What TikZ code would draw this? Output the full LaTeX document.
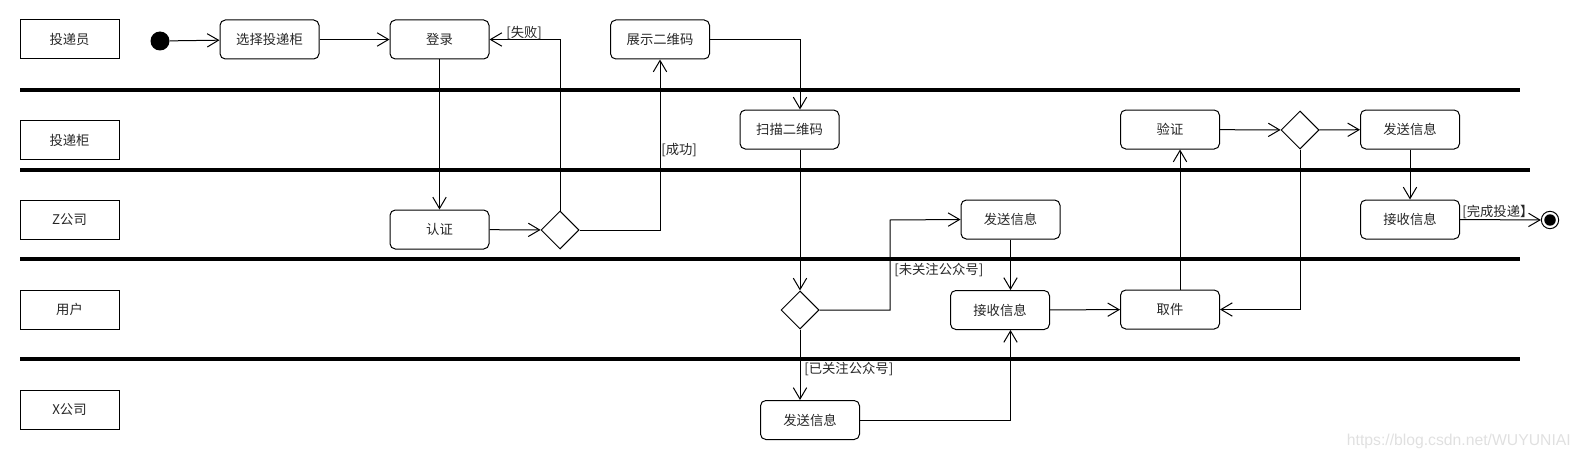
\documentclass[tikz,border=0pt]{standalone}
\usepackage{fontspec}
\newfontfamily\cjk{Noto Sans CJK SC}
\setsansfont{Liberation Sans}
\usetikzlibrary{shapes.geometric,arrows.meta,calc}
\begin{document}
\begin{tikzpicture}[x=0.75pt,y=-0.75pt,
  every node/.style={font=\cjk\fontsize{10}{12}\selectfont, text=black!85},
  lane/.style={draw, line width=0.75pt, minimum width=74.25pt, minimum height=29.25pt, inner sep=0pt},
  act/.style={draw, rounded corners=4pt, line width=0.75pt, minimum width=74.25pt, minimum height=29.25pt, inner sep=0pt},
  dec/.style={diamond, draw, line width=0.75pt, minimum width=28.5pt, minimum height=28.5pt, inner sep=0pt, aspect=1},
  sep/.style={line width=3pt},
  flow/.style={line width=0.75pt, -{Straight Barb[length=8.5pt,width=10pt,line width=0.75pt]}},
  guard/.style={inner sep=0pt}
]
\useasboundingbox (0,0) rectangle (1580,460);

% swimlane separators
\coordinate (s1a) at (20,90);  \coordinate (s1b) at (1520,90);
\coordinate (s2a) at (20,170); \coordinate (s2b) at (1530,170);
\coordinate (s3a) at (20,259); \coordinate (s3b) at (1520,259);
\coordinate (s4a) at (20,359); \coordinate (s4b) at (1520,359);
\draw[sep] (s1a) -- (s1b);
\draw[sep] (s2a) -- (s2b);
\draw[sep] (s3a) -- (s3b);
\draw[sep] (s4a) -- (s4b);

% lane labels
\node[lane] (l1) at (69.5,39.5) {投递员};
\node[lane] (l2) at (69.5,140) {投递柜};
\node[lane] (l3) at (69.5,219.5) {Z公司};
\node[lane] (l4) at (69.5,309.5) {用户};
\node[lane] (l5) at (69.5,409.5) {X公司};

% activities
\node[circle, fill=black, minimum size=14.25pt, inner sep=0pt] (start) at (160,41) {};
\node[act] (sel) at (269.5,39.5) {选择投递柜};
\node[act] (login) at (439.5,39.5) {登录};
\node[act] (auth) at (439.5,229.5) {认证};
\node[dec] (d1) at (560,230) {};
\node[act] (show) at (660,39.5) {展示二维码};
\node[act] (scan) at (789.5,129.5) {扫描二维码};
\node[dec] (d3) at (800,310) {};
\node[act] (sendZ) at (1010.5,219.5) {发送信息};
\node[act] (recvU) at (1000,310) {接收信息};
\node[act] (sendX) at (810,420) {发送信息};
\node[act] (pick) at (1170,309.5) {取件};
\node[act] (verify) at (1170,129.5) {验证};
\node[dec] (d2) at (1300,130) {};
\node[act] (sendL) at (1410,129.5) {发送信息};
\node[act] (recvZ) at (1410,219.5) {接收信息};
\node[circle, draw, line width=0.75pt, minimum size=13pt, inner sep=0pt,
      path picture={\fill[black] (path picture bounding box.center) circle (4.3pt);}] (end) at (1550,220) {};
\coordinate (colx) at (1180,200);
\coordinate (k1) at (890,220);

% connectors
\draw[flow] (start) -- (sel);
\draw[flow] (sel) -- (login);
\draw[flow] (login) -- (auth);
\draw[flow] (auth) -- (d1);
\draw[flow] (d1.north) |- (login.east);
\draw[flow] (d1.east) -| (show.south);
\draw[flow] (show.east) -| (scan.north -| d3);
\draw[flow] (scan.south -| d3) -- (d3.north);
\draw[flow] (d3.east) -| (k1) -- (sendZ.west);
\draw[flow] (d3.south) -- (sendX.north -| d3);
\draw[flow] (sendZ.south) -- (recvU.north -| sendZ);
\draw[flow] (sendX.east) -| (recvU.south -| sendZ);
\draw[flow] (recvU) -- (pick);
\draw[flow] (pick.north -| colx) -- (verify.south -| colx);
\draw[flow] (verify) -- (d2);
\draw[flow] (d2) -- (sendL);
\draw[flow] (d2.south) |- (pick.east);
\draw[flow] (sendL) -- (recvZ);
\draw[flow] (recvZ.east) -- (end.west);

% guards
\node[guard, anchor=west] (g1) at (506,33) {[失败]};
\node[guard, anchor=west] (g2) at (661,150) {[成功]};
\node[guard, anchor=west] (g3) at (894,270) {[未关注公众号]};
\node[guard, anchor=west] (g4) at (804,369) {[已关注公众号]};
\node[guard, anchor=west] (g5) at (1462,212) {[完成投递】};

% watermark
\node[font=\sffamily\fontsize{11.8}{14}\selectfont, text=black!12, anchor=east, inner sep=0pt] (wm) at (1571,441) {https://blog.csdn.net/WUYUNIAI};
\end{tikzpicture}
\end{document}
